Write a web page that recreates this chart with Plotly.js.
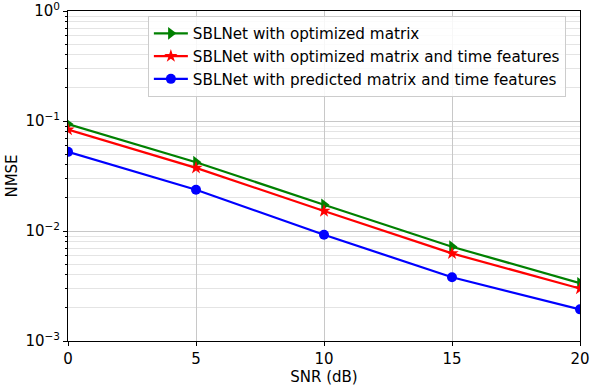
<!DOCTYPE html>
<html>
<head>
<meta charset="utf-8">
<script src="https://cdn.plot.ly/plotly-3.0.1.min.js"></script>
<style>
  body { margin: 0; background: #fff; }
  #plot { width: 590px; height: 388px; }
</style>
</head>
<body>
<div id="plot"></div>
<script>
const snr = [0, 5, 10, 15, 20];
const nmseOptimized = [0.0937, 0.0422, 0.0173, 0.0072, 0.00335];
const nmseOptimizedTime = [0.0834, 0.0375, 0.0152, 0.00626, 0.0030];
const nmsePredictedTime = [0.0524, 0.0237, 0.00924, 0.0038, 0.00194];
const yTickVals = [0.001, 0.01, 0.1, 1];
const yTickText = ['10<sup>−3</sup>', '10<sup>−2</sup>', '10<sup>−1</sup>', '10<sup>0</sup>'];

const seriesNames = [
    'SBLNet with optimized matrix',
    'SBLNet with optimized matrix and time features',
    'SBLNet with predicted matrix and time features'
];

const traceGreen = {
    x: snr,
    y: nmseOptimized,
    mode: 'lines+markers',
    name: seriesNames[0],
    line: {color: 'green', width: 2.2},
    marker: {symbol: 'triangle-right', size: 11, color: 'green'}
};

const traceRed = {
    x: snr,
    y: nmseOptimizedTime,
    mode: 'lines+markers',
    name: seriesNames[1],
    line: {color: 'red', width: 2.2},
    marker: {symbol: 'star', size: 10, color: 'red'}
};

const traceBlue = {
    x: snr,
    y: nmsePredictedTime,
    mode: 'lines+markers',
    name: seriesNames[2],
    line: {color: 'blue', width: 2.2},
    marker: {symbol: 'circle', size: 10, color: 'blue'}
};

const layout = {
    width: 590,
    height: 388,
    margin: {l: 68, r: 10, t: 11, b: 47},
    paper_bgcolor: '#ffffff',
    plot_bgcolor: '#ffffff',
    font: {family: 'DejaVu Sans', size: 15, color: '#000'},
    showlegend: true,
    legend: {
        x: 0.156, y: 0.985, xanchor: 'left', yanchor: 'top',
        bgcolor: 'rgba(255,255,255,0.85)',
        bordercolor: '#cccccc', borderwidth: 1,
        font: {size: 15.2},
        itemwidth: 34,
        tracegroupgap: 0
    },
    xaxis: {
        title: {text: 'SNR (dB)', font: {size: 15}, standoff: 3},
        range: [0, 20],
        tickvals: snr,
        ticks: 'outside', ticklen: 4, tickcolor: '#000',
        tickfont: {size: 15},
        showline: true, linecolor: '#000', linewidth: 1, mirror: true,
        showgrid: true, gridcolor: '#c8c8c8', gridwidth: 1.3,
        zeroline: false
    },
    yaxis: {
        title: {text: 'NMSE', font: {size: 15}, standoff: 4},
        type: 'log',
        range: [-3, 0],
        tickvals: yTickVals,
        ticktext: yTickText,
        ticklabeloverflow: 'allow',
        ticks: 'outside', ticklen: 4, tickcolor: '#000',
        tickfont: {size: 15},
        showline: true, linecolor: '#000', linewidth: 1, mirror: true,
        showgrid: true, gridcolor: '#c8c8c8', gridwidth: 1.3,
        zeroline: false,
        minor: {
            dtick: 'D1',
            ticks: 'outside', ticklen: 2, tickcolor: '#000',
            showgrid: true, gridcolor: '#e4e4e4', gridwidth: 1
        }
    }
};

Plotly.newPlot('plot', [traceGreen, traceRed, traceBlue], layout, {displayModeBar: false});
</script>
</body>
</html>
